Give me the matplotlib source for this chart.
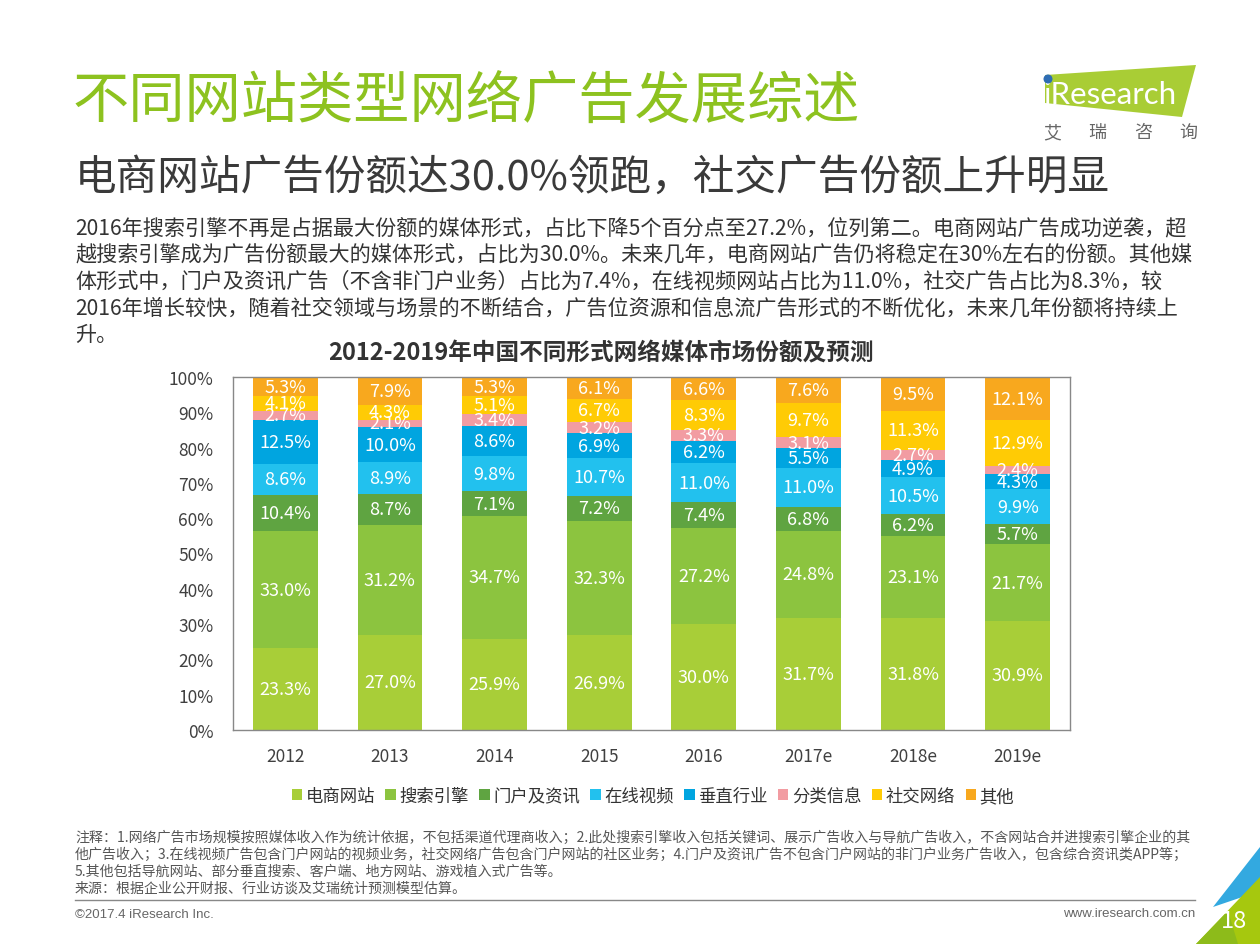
import matplotlib
matplotlib.use("Agg")
import matplotlib.pyplot as plt
from matplotlib.patches import Polygon, Patch
import numpy as np

plt.rcParams['font.family'] = ['Noto Sans CJK SC', 'DejaVu Sans']

years = ["2012", "2013", "2014", "2015", "2016", "2017e", "2018e", "2019e"]
series_names = ["电商网站", "搜索引擎", "门户及资讯", "在线视频", "垂直行业", "分类信息", "社交网络", "其他"]
ecommerce = [23.3, 27.0, 25.9, 26.9, 30.0, 31.7, 31.8, 30.9]
search = [33.0, 31.2, 34.7, 32.3, 27.2, 24.8, 23.1, 21.7]
portal = [10.4, 8.7, 7.1, 7.2, 7.4, 6.8, 6.2, 5.7]
video = [8.6, 8.9, 9.8, 10.7, 11.0, 11.0, 10.5, 9.9]
vertical = [12.5, 10.0, 8.6, 6.9, 6.2, 5.5, 4.9, 4.3]
classified = [2.7, 2.1, 3.4, 3.2, 3.3, 3.1, 2.7, 2.4]
social = [4.1, 4.3, 5.1, 6.7, 8.3, 9.7, 11.3, 12.9]
other = [5.3, 7.9, 5.3, 6.1, 6.6, 7.6, 9.5, 12.1]
y_ticks = [0, 10, 20, 30, 40, 50, 60, 70, 80, 90, 100]

colors = ["#A8CE38", "#8CC43F", "#5FA441", "#22C1EE", "#00A5E0", "#F29CA2", "#FFCB05", "#F8A81E"]

W, H = 1260, 945
fig = plt.figure(figsize=(W / 100, H / 100), dpi=100)

# full-page canvas in pixel coords
bg = fig.add_axes([0, 0, 1, 1])
bg.set_xlim(0, W)
bg.set_ylim(H, 0)
bg.axis('off')

green = "#8DC21F"
bg.text(73, 103, "不同网站类型网络广告发展综述", fontsize=40.5, color=green, va='center', ha='left')
bg.text(75, 178, "电商网站广告份额达30.0%领跑，社交广告份额上升明显", fontsize=30, color="#3A3A3A",
        va='center', ha='left')

body = [
    "2016年搜索引擎不再是占据最大份额的媒体形式，占比下降5个百分点至27.2%，位列第二。电商网站广告成功逆袭，超",
    "越搜索引擎成为广告份额最大的媒体形式，占比为30.0%。未来几年，电商网站广告仍将稳定在30%左右的份额。其他媒",
    "体形式中，门户及资讯广告（不含非门户业务）占比为7.4%，在线视频网站占比为11.0%，社交广告占比为8.3%，较",
    "2016年增长较快，随着社交领域与场景的不断结合，广告位资源和信息流广告形式的不断优化，未来几年份额将持续上",
    "升。",
]
for i, line in enumerate(body):
    bg.text(75, 229 + i * 26.5, line, fontsize=15.2, color="#333333", va='center', ha='left')

# logo
bg.add_patch(Polygon([[1045, 76], [1196, 66], [1182, 118], [1045, 104]], closed=True,
                     facecolor="#A9CD35", edgecolor='none'))
bg.text(1043, 95, "iResearch", fontsize=22.5, color='white', va='center', ha='left',
        family=['Lato', 'DejaVu Sans'])
bg.add_patch(plt.Circle((1048, 80), 3.8, color="#2E6DB4", zorder=5))
for k, ch in enumerate("艾瑞咨询"):
    bg.text(1052 + k * 45.5, 133, ch, fontsize=13, color="#666666", va='center', ha='center')

# chart title
bg.text(601, 353, "2012-2019年中国不同形式网络媒体市场份额及预测", fontsize=17, fontweight='bold',
        color="#333333", va='center', ha='center')

# footnotes
notes = [
    "注释：1.网络广告市场规模按照媒体收入作为统计依据，不包括渠道代理商收入；2.此处搜索引擎收入包括关键词、展示广告收入与导航广告收入，不含网站合并进搜索引擎企业的其",
    "他广告收入；3.在线视频广告包含门户网站的视频业务，社交网络广告包含门户网站的社区业务；4.门户及资讯广告不包含门户网站的非门户业务广告收入，包含综合资讯类APP等；",
    "5.其他包括导航网站、部分垂直搜索、客户端、地方网站、游戏植入式广告等。",
    "来源：根据企业公开财报、行业访谈及艾瑞统计预测模型估算。",
]
for i, line in enumerate(notes):
    bg.text(75, 838 + i * 17, line, fontsize=10.05, color="#555555", va='center', ha='left')

bg.plot([75, 1195], [901, 901], color="#888888", lw=1)
bg.text(75, 915, "©2017.4 iResearch Inc.", fontsize=9.5, color="#666666", va='center', ha='left',
        family=['Liberation Sans', 'DejaVu Sans'])
bg.text(1195, 914, "www.iresearch.com.cn", fontsize=9.5, color="#666666", va='center', ha='right',
        family=['Liberation Sans', 'DejaVu Sans'])

# corner decoration
bg.add_patch(Polygon([[1213, 908], [1260, 848], [1260, 892]], closed=True, facecolor="#33A9E0", edgecolor='none'))
bg.add_patch(Polygon([[1196, 945], [1260, 878], [1260, 945]], closed=True, facecolor="#A6C80E", edgecolor='none'))
bg.add_patch(Polygon([[1196, 945], [1228, 912], [1238, 945]], closed=True, facecolor="#8DBB1A", edgecolor='none'))
bg.text(1234, 922, "18", fontsize=17, color='white', va='center', ha='center')

# chart
ax = fig.add_axes([233 / W, 1 - 731 / H, 837 / W, 353 / H])
data = [ecommerce, search, portal, video, vertical, classified, social, other]
x = np.arange(len(years))
bottom = np.zeros(len(years))
for name, vals, c in zip(series_names, data, colors):
    vals = np.array(vals)
    ax.bar(x, vals, width=0.62, bottom=bottom, color=c, label=name, linewidth=0)
    for xi, b, v in zip(x, bottom, vals):
        ax.text(xi, b + v / 2, f"{v:.1f}%", ha='center', va='center', fontsize=13, color='white')
    bottom += vals

ax.set_xlim(-0.5, len(years) - 0.5)
ax.set_ylim(0, 100)
ax.set_yticks(y_ticks)
ax.set_yticklabels([f"{t}%" for t in y_ticks], fontsize=12.5, color="#404040")
ax.set_xticks(x)
ax.set_xticklabels(years, fontsize=12.5, color="#404040")
ax.tick_params(length=0, pad=12)
ax.tick_params(axis='y', pad=14)
for s in ax.spines.values():
    s.set_color("#888888")
    s.set_linewidth(1)

handles = [Patch(facecolor=c, edgecolor='none') for c in colors]
fig.legend(handles, series_names, loc='center', bbox_to_anchor=(653 / W, 1 - 797 / H), ncol=8,
           frameon=False, fontsize=12.5, handlelength=0.6, handleheight=0.6, handletextpad=0.2,
           columnspacing=0.6, labelcolor="#333333")

fig.savefig("out.png", dpi=100)
